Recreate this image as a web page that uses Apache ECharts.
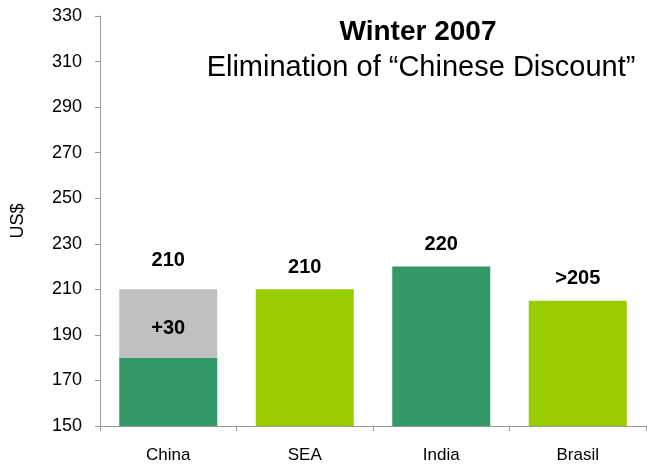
<!DOCTYPE html>
<html>
<head>
    <meta charset="utf-8">
    <title>ECharts</title>
    <script src="https://cdn.jsdelivr.net/npm/echarts@6/dist/echarts.min.js"></script>
    <style>
        html, body { margin: 0; padding: 0; background: #fff; }
    </style>
</head>
<body>
    <div id="main" style="width: 647px;height:464px;"></div>
    <script type="text/javascript">
        // data
        var categories = ['China', 'SEA', 'India', 'Brasil'];
        var baseValues = [180, 210, 220, 205];
        var addValues = [30, null, null, null];
        var topLabels = ['210', '210', '220', '>205'];
        var baseColors = ['#339966', '#99CC00', '#339966', '#99CC00'];
        var yTicks = { min: 150, max: 330, interval: 20 };

        var myChart = echarts.init(document.getElementById('main'));

        var font = 'Liberation Sans, Arial, sans-serif';

        var baseData = baseValues.map(function (v, i) {
            return {
                value: v,
                itemStyle: { color: baseColors[i] },
                label: { show: addValues[i] == null }
            };
        });
        var addData = addValues.map(function (v) {
            return v == null ? '-' : v;
        });

        var option = {
            animation: false,
            title: [{
                text: 'Winter 2007',
                left: 413, top: 13, textAlign: 'center',
                textStyle: { fontFamily: font, fontSize: 28, fontWeight: 'bold', color: '#000' }
            }, {
                text: 'Elimination of \u201CChinese Discount\u201D',
                left: 416, top: 48, textAlign: 'center',
                textStyle: { fontFamily: font, fontSize: 29, fontWeight: 'normal', color: '#000' }
            }],
            grid: { left: 100, right: 1, top: 16, bottom: 36 },
            xAxis: {
                type: 'category',
                data: categories,
                axisLine: { lineStyle: { color: '#999' } },
                axisTick: { show: true, length: 5, lineStyle: { color: '#999' } },
                axisLabel: { color: '#000', fontFamily: font, fontSize: 17, margin: 21 }
            },
            yAxis: {
                type: 'value',
                min: yTicks.min, max: yTicks.max, interval: yTicks.interval,
                name: 'US$',
                nameLocation: 'middle',
                nameGap: 73,
                nameTextStyle: { color: '#000', fontFamily: font, fontSize: 18 },
                axisLine: { show: true, lineStyle: { color: '#999' } },
                axisTick: { show: true, length: 5, lineStyle: { color: '#999' } },
                splitLine: { show: false },
                axisLabel: { color: '#000', fontFamily: font, fontSize: 18, margin: 18 }
            },
            series: [{
                name: 'base',
                type: 'bar',
                stack: 'total',
                barWidth: 98,
                data: baseData,
                label: {
                    position: 'top',
                    distance: 12,
                    fontFamily: font, fontSize: 20, fontWeight: 'bold', color: '#000',
                    formatter: function (p) { return topLabels[p.dataIndex]; }
                }
            }, {
                name: 'add',
                type: 'bar',
                stack: 'total',
                barWidth: 98,
                data: addData,
                itemStyle: { color: '#C0C0C0' },
                label: {
                    show: true,
                    position: 'inside',
                    offset: [0, 5],
                    fontFamily: font, fontSize: 20, fontWeight: 'bold', color: '#000',
                    formatter: function (p) { return '+' + p.value; }
                }
            }, {
                // total label above the stacked bar
                name: 'total',
                type: 'bar',
                stack: 'total',
                barWidth: 98,
                data: addValues.map(function (v) { return v == null ? '-' : 0; }),
                label: {
                    show: true,
                    position: 'top',
                    distance: 19,
                    fontFamily: font, fontSize: 20, fontWeight: 'bold', color: '#000',
                    formatter: function (p) { return topLabels[p.dataIndex]; }
                }
            }]
        };

        myChart.setOption(option);
    </script>
</body>
</html>
